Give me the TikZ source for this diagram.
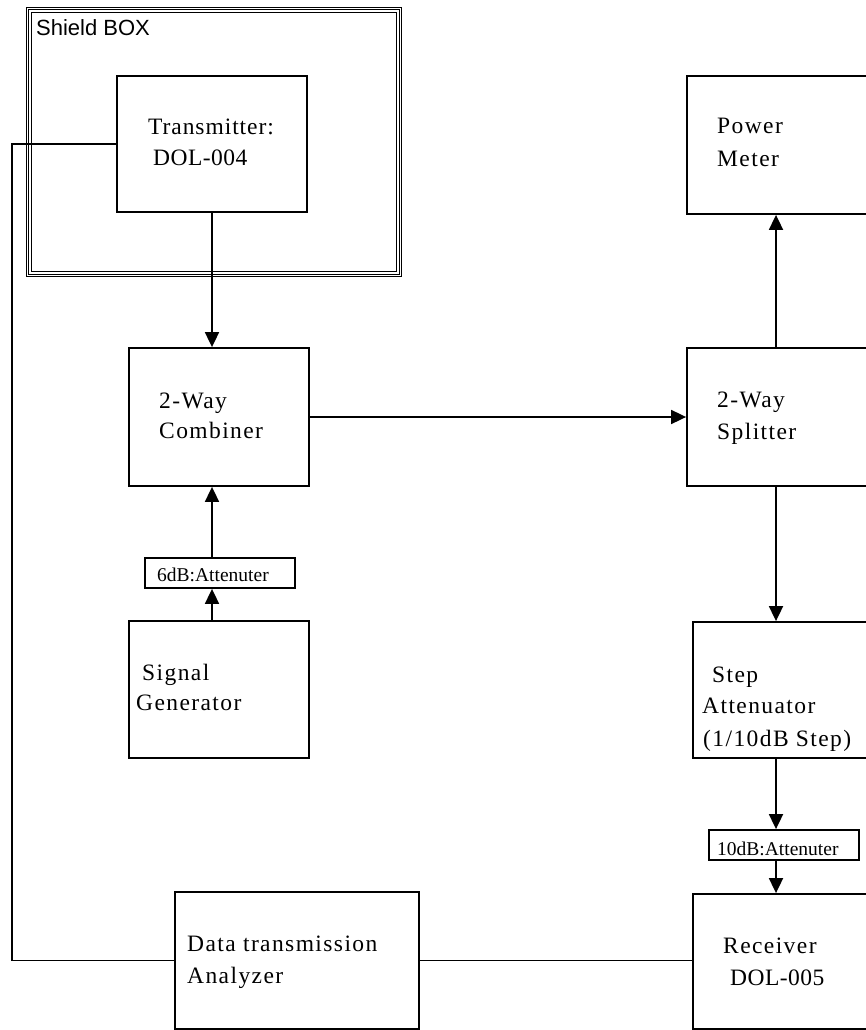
\documentclass[tikz,border=0pt]{standalone}
\usepackage{fontspec}
\setmainfont{Liberation Serif}
\newfontfamily\shieldfont{Liberation Sans}
\usetikzlibrary{arrows.meta}

\tikzset{
  unit/.style={draw, rectangle, line width=1.8pt, inner sep=0pt},
  lbl/.style={anchor=base west, inner sep=0pt,
    font=\fontsize{23.5}{28}\selectfont\addfontfeature{LetterSpace=6}},
  idlbl/.style={anchor=base west, inner sep=0pt,
    font=\fontsize{23.5}{28}\selectfont\addfontfeature{LetterSpace=2}},
  attlbl/.style={anchor=base west, inner sep=0pt, font=\fontsize{19.5}{24}\selectfont},
  wire/.style={line width=1.8pt},
}

\begin{document}
\begin{tikzpicture}[x=1pt, y=-1pt, >={Triangle[width=14pt,length=15pt]}]
  \useasboundingbox (0,0) rectangle (866,1030);
  \clip (0,0) rectangle (866,1030);
  \coordinate (lft) at (12,0);
  \coordinate (rcol) at (776,0);

  % shield box, three frames
  \node[unit, line width=1.5pt, minimum width=375, minimum height=269] (shield) at (214,142) {};
  \draw[line width=1pt] ([shift={(3,3)}]shield.north west) rectangle ([shift={(-3,-3)}]shield.south east);
  \draw[line width=1.6pt] ([shift={(5.8,5.8)}]shield.north west) rectangle ([shift={(-5.8,-5.8)}]shield.south east);
  \node[anchor=base west, inner sep=0pt, font=\shieldfont\fontsize{22}{26}\selectfont] (shieldlbl) at (36,35.7) {Shield BOX};

  % left column
  \node[unit, minimum width=190, minimum height=136] (tx) at (212,144) {};
  \node[unit, minimum width=180, minimum height=138] (comb) at (219,417) {};
  \node[unit, minimum width=150, minimum height=30] (att6) at (220,573) {};
  \node[unit, minimum width=180, minimum height=137] (siggen) at (219,689.5) {};
  \node[unit, minimum width=244, minimum height=137] (ana) at (297,960.5) {};

  % right column (runs off the page)
  \node[unit, minimum width=190, minimum height=138] (pwr) at (782,145) {};
  \node[unit, minimum width=190, minimum height=138] (split) at (782,417) {};
  \node[unit, minimum width=190, minimum height=136] (step) at (788,690) {};
  \node[unit, minimum width=150, minimum height=30] (att10) at (784,845) {};
  \node[unit, minimum width=190, minimum height=135] (recv) at (788,961.5) {};

  % labels
  \node[lbl, font=\fontsize{23.5}{28}\selectfont\addfontfeature{LetterSpace=4}] (txa) at (148,135) {Transmitter:};
  \node[idlbl] (txb) at (153,165.7) {DOL-004};
  \node[lbl] (comba) at (159,408) {2-Way};
  \node[lbl] (combb) at (159,438) {Combiner};
  \node[attlbl] (att6lbl) at (157,581) {6dB:Attenuter};
  \node[lbl] (siga) at (142,680) {Signal};
  \node[lbl] (sigb) at (136,710) {Generator};
  \node[lbl] (anaa) at (187,951) {Data transmission};
  \node[lbl] (anab) at (187,983) {Analyzer};
  \node[lbl] (pwra) at (717,134) {Power};
  \node[lbl] (pwrb) at (717,166) {Meter};
  \node[lbl] (splita) at (717,407) {2-Way};
  \node[lbl] (splitb) at (717,439) {Splitter};
  \node[lbl] (stepa) at (712,682) {Step};
  \node[lbl] (stepb) at (702,713) {Attenuator};
  \node[lbl] (stepc) at (703,746) {(1/10dB Step)};
  \node[attlbl] (att10lbl) at (717,855) {10dB:Attenuter};
  \node[lbl] (recva) at (723,953) {Receiver};
  \node[idlbl] (recvb) at (730,985) {DOL-005};

  % connections
  \draw[wire, ->] (tx.south) -- (tx.south |- comb.north);
  \draw[wire, ->] (tx.south |- att6.north) -- (tx.south |- comb.south);
  \draw[wire, ->] (tx.south |- siggen.north) -- (tx.south |- att6.south);
  \draw[wire, ->] (comb.east) -- (comb.east -| split.west);
  \draw[wire, ->] (rcol |- split.north) -- (rcol |- pwr.south);
  \draw[wire, ->] (rcol |- split.south) -- (rcol |- step.north);
  \draw[wire, ->] (rcol |- step.south) -- (rcol |- att10.north);
  \draw[wire, ->] (rcol |- att10.south) -- (rcol |- recv.north);
  \draw[wire] (tx.west) -- (tx.west -| lft) |- (ana.west);
  \draw[wire] (ana.east) -- (ana.east -| recv.west);
\end{tikzpicture}
\end{document}
